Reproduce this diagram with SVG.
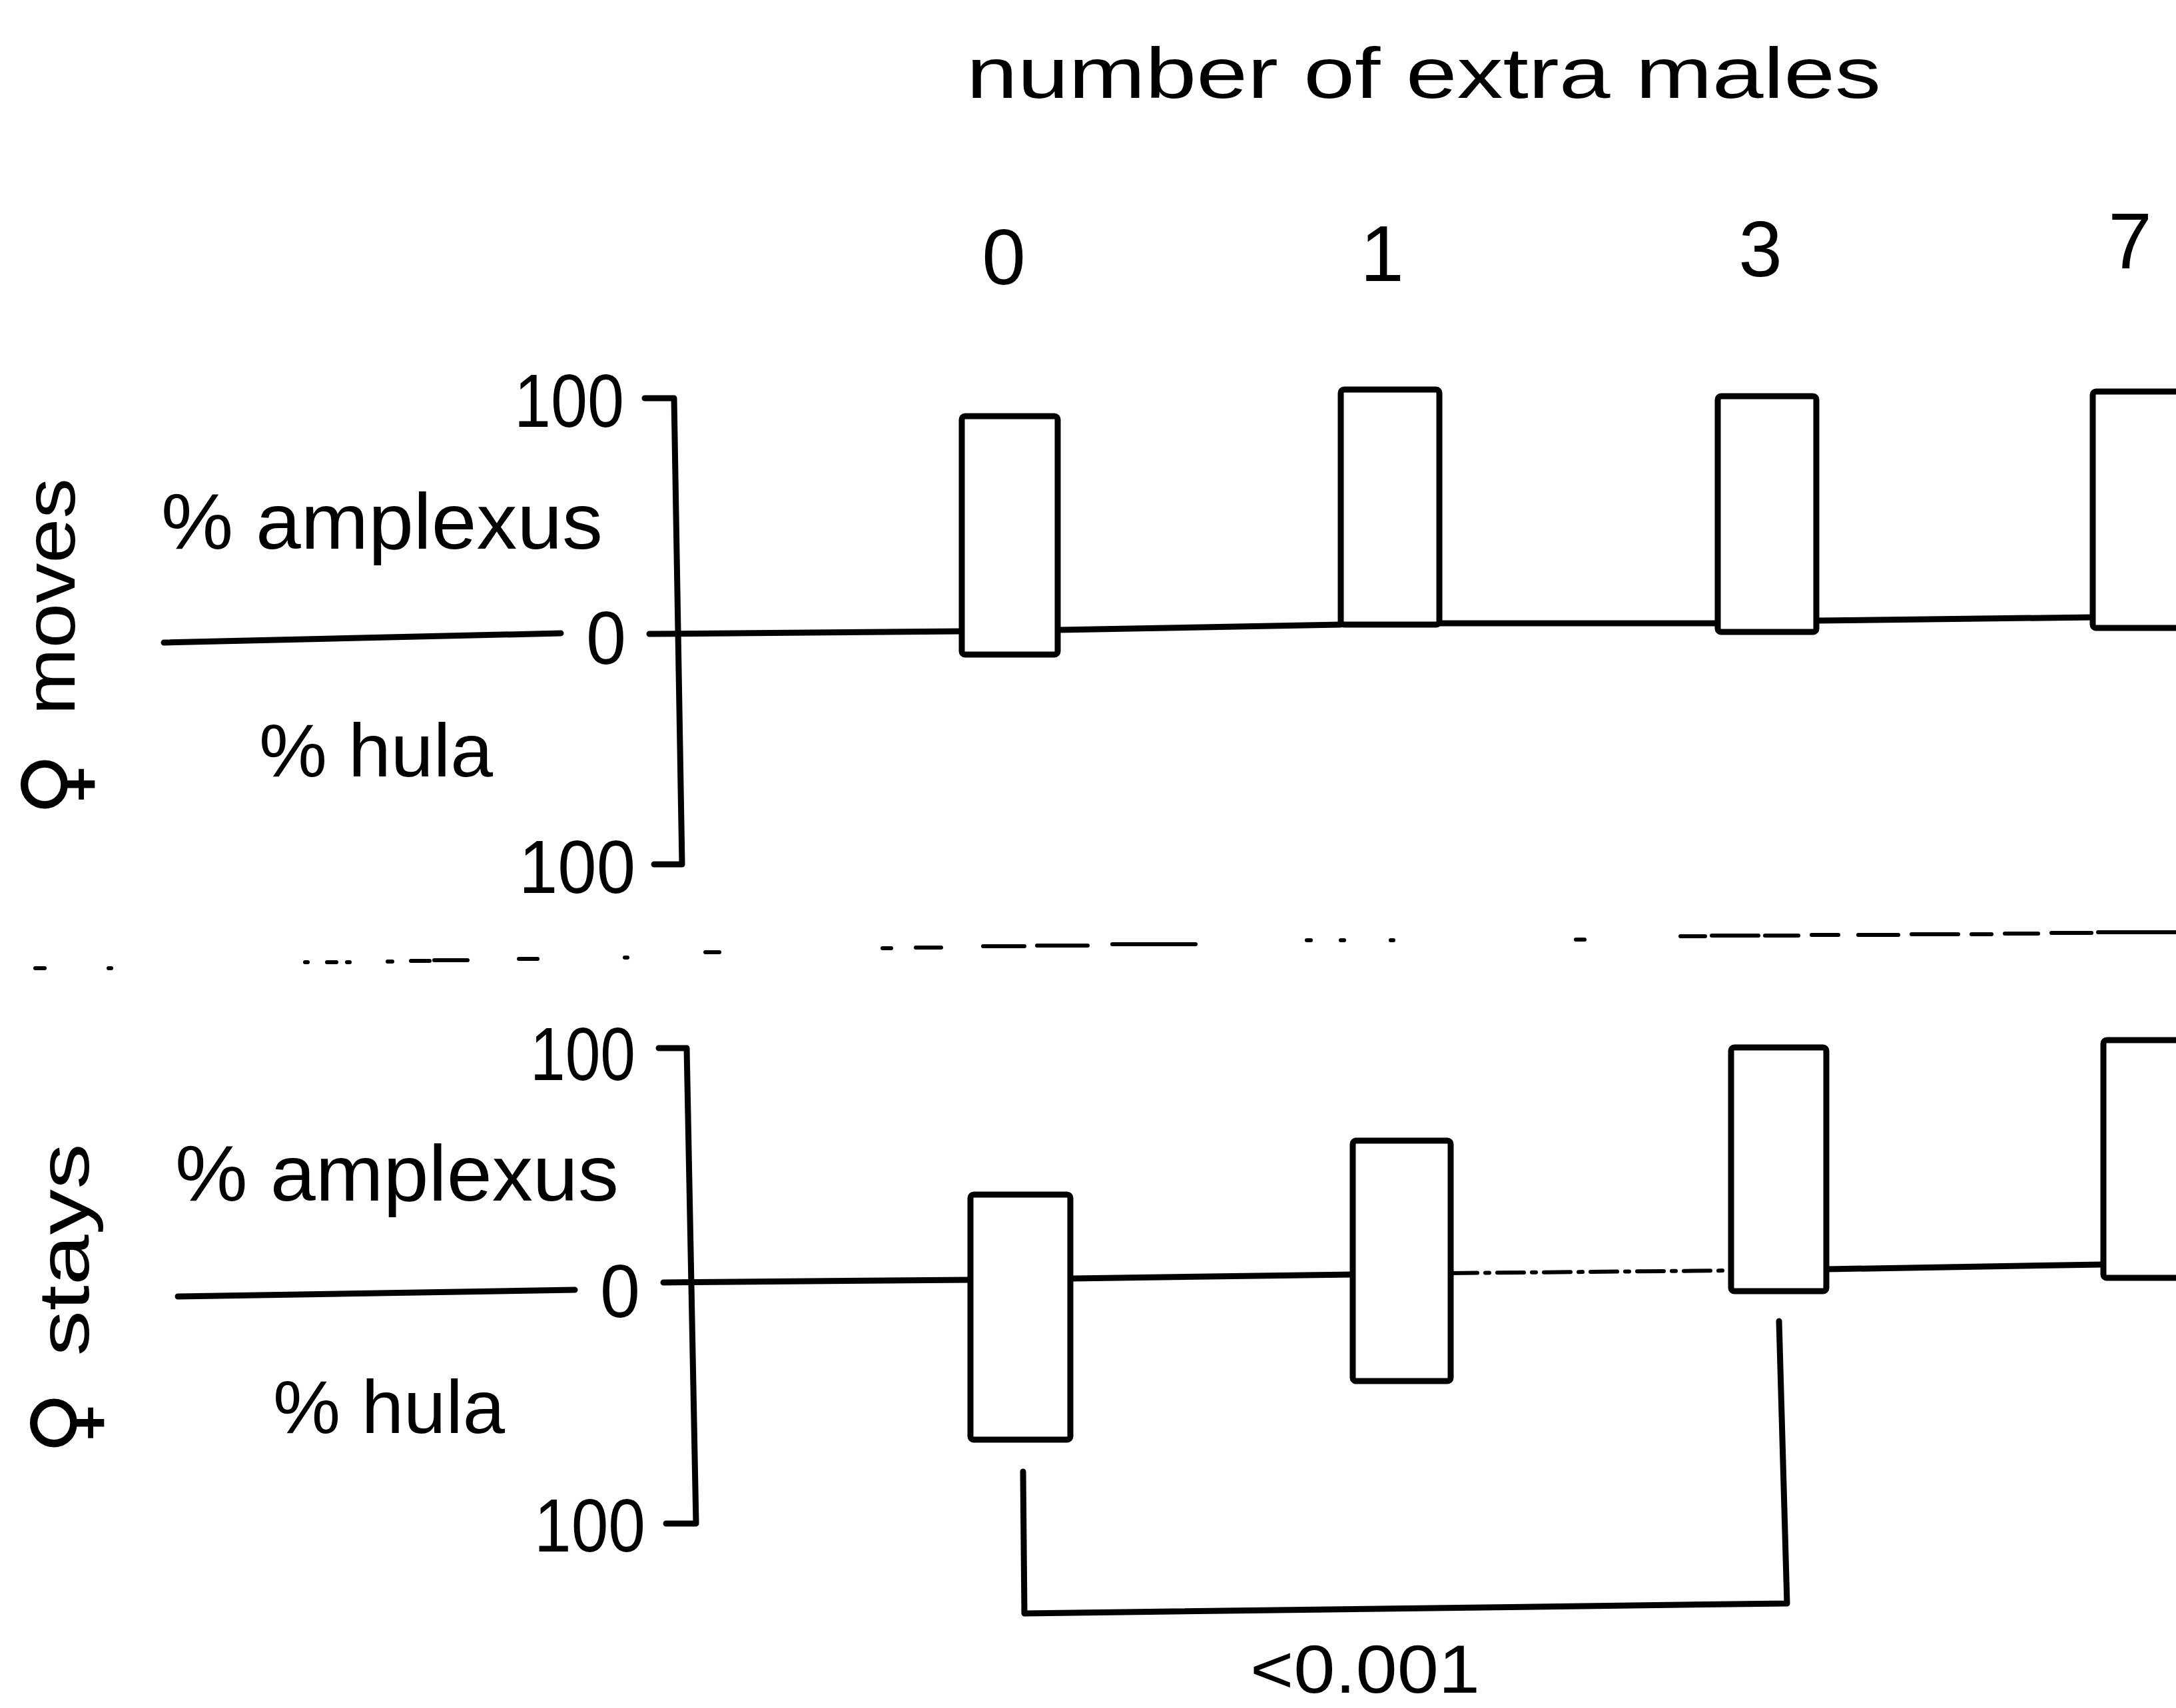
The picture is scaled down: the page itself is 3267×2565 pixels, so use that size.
<svg xmlns="http://www.w3.org/2000/svg" width="3267" height="2565" viewBox="0 0 3267 2565">
<style>
.t{font-family:"Liberation Sans","DejaVu Sans",sans-serif;fill:#000}
.sym{font-family:"DejaVu Sans",sans-serif;fill:#000}
.ln{fill:none;stroke:#000;stroke-width:9;stroke-linejoin:round;stroke-linecap:round}
.bar{fill:#fff;stroke:#000;stroke-width:9}
.dash{fill:none;stroke:#000;stroke-width:6;stroke-linecap:round}
</style>
<rect width="3267" height="2565" fill="#fff"/>
<g id="title">
<text class="t" x="1451" y="147" font-size="108" textLength="1373" lengthAdjust="spacingAndGlyphs">number of  extra males</text>
</g>
<g id="column-labels" class="t" font-size="118" text-anchor="middle">
<text x="1507" y="427">0</text>
<text x="2075" y="422">1</text>
<text x="2643" y="415">3</text>
<text x="3198" y="403">7</text>
</g>
<g id="connectors">
<path class="ln" d="M968 598 H1012 L1024 1298 H982"/>
<path class="ln" d="M246 965 L842 951"/>
<path class="ln" d="M975 952 L1444 948 M1588 946 L2013 938 M2161 936 L2579 936 M2728 932 L3142 927"/>
<path class="ln" d="M989 1574 H1031 L1045 2288 H1000"/>
<path class="ln" d="M267 1947 L863 1937"/>
<path class="ln" d="M996 1926 L1457 1922 M1610 1920 L2031 1914 M2743 1906 L3157 1899"/>
<path class="dash" d="M2178 1912 L2599 1908" stroke-dasharray="40 12 6 12"/>
<path class="ln" d="M1536 2210 L1538 2423 L2683 2408 L2671 1984"/>
<path class="dash" d="M53 1454 H67 M163 1454 H167 M458 1445 H462 M491 1445 H505 M521 1445 H525 M582 1444 H589 M617 1443 H645 M652 1442 H702 M779 1440 H807 M938 1438 H942 M1059 1430 H1080 M1325 1424 H1338 M1375 1423 H1413 M1476 1421 H1538 M1557 1420 H1633 M1670 1418 H1795 M1962 1412 H1968 M2013 1412 H2018 M2088 1412 H2092 M2366 1411 H2379 M2523 1406 H2560 M2570 1405 H2640 M2650 1405 H2700 M2720 1404 H2760 M2790 1404 H2850 M2870 1403 H2940 M2960 1403 H2990 M3010 1402 H3060 M3080 1401 H3140 M3150 1400 H3267"/>
</g>
<g id="top-panel-labels" class="t">
<text x="772" y="641" font-size="113" textLength="165" lengthAdjust="spacingAndGlyphs">100</text>
<text x="880" y="997" font-size="113" textLength="60" lengthAdjust="spacingAndGlyphs">0</text>
<text x="779" y="1341" font-size="113" textLength="175" lengthAdjust="spacingAndGlyphs">100</text>
<text x="242" y="824" font-size="118" textLength="663" lengthAdjust="spacingAndGlyphs">% amplexus</text>
<text x="389" y="1166" font-size="114" textLength="351" lengthAdjust="spacingAndGlyphs">% hula</text>
<text transform="translate(112 896) rotate(-90)" font-size="108" text-anchor="middle" textLength="356" lengthAdjust="spacingAndGlyphs">moves</text>
<text class="sym" transform="translate(126 1178) rotate(-90)" font-size="130" text-anchor="middle">♀</text>
</g>
<g id="bottom-panel-labels" class="t">
<text x="796" y="1622" font-size="113" textLength="158" lengthAdjust="spacingAndGlyphs">100</text>
<text x="901" y="1978" font-size="113" textLength="60" lengthAdjust="spacingAndGlyphs">0</text>
<text x="802" y="2330" font-size="113" textLength="167" lengthAdjust="spacingAndGlyphs">100</text>
<text x="263" y="1803" font-size="118" textLength="666" lengthAdjust="spacingAndGlyphs">% amplexus</text>
<text x="410" y="2152" font-size="114" textLength="348" lengthAdjust="spacingAndGlyphs">% hula</text>
<text transform="translate(133 1877) rotate(-90)" font-size="108" text-anchor="middle" textLength="319" lengthAdjust="spacingAndGlyphs">stays</text>
<text class="sym" transform="translate(140 2137) rotate(-90)" font-size="130" text-anchor="middle">♀</text>
</g>
<g id="top-bar-0"><rect class="bar" x="1444" y="625" width="144" height="358" rx="5"/></g>
<g id="top-bar-1"><rect class="bar" x="2013" y="585" width="148" height="353" rx="5"/></g>
<g id="top-bar-3"><rect class="bar" x="2579" y="595" width="148" height="354" rx="5"/></g>
<g id="top-bar-7"><rect class="bar" x="3142" y="588" width="160" height="355" rx="5"/></g>
<g id="bottom-bar-0"><rect class="bar" x="1457" y="1794" width="150" height="368" rx="5"/></g>
<g id="bottom-bar-1"><rect class="bar" x="2031" y="1713" width="147" height="361" rx="5"/></g>
<g id="bottom-bar-3"><rect class="bar" x="2599" y="1573" width="143" height="366" rx="5"/></g>
<g id="bottom-bar-7"><rect class="bar" x="3158" y="1562" width="150" height="357" rx="5"/></g>
<g id="p-value">
<text class="t" x="1877" y="2542" font-size="102" textLength="345" lengthAdjust="spacingAndGlyphs">&lt;0.001</text>
</g>
</svg>
